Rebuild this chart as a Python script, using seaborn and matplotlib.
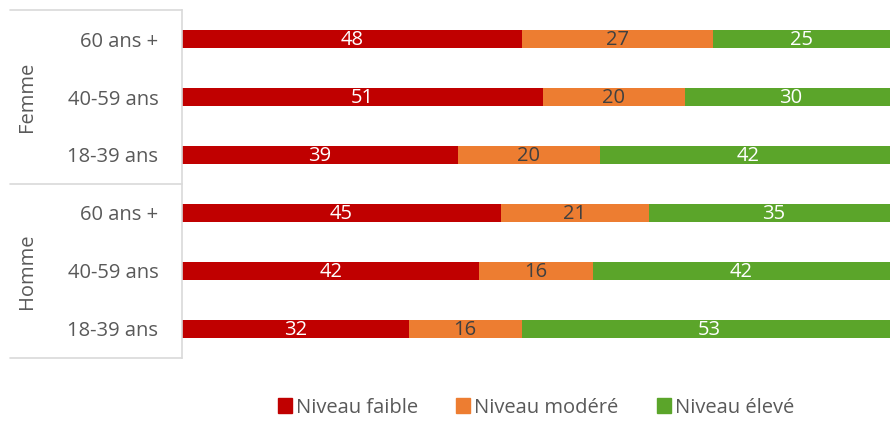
import matplotlib
matplotlib.use("Agg")
import matplotlib.pyplot as plt
import matplotlib.transforms as mtransforms
from matplotlib.patches import Patch
import seaborn as sns
import pandas as pd
import numpy as np

groups = ["Femme", "Femme", "Femme", "Homme", "Homme", "Homme"]
ages = ["60 ans +", "40-59 ans", "18-39 ans", "60 ans +", "40-59 ans", "18-39 ans"]
faible = [48, 51, 39, 45, 42, 32]
modere = [27, 20, 20, 21, 16, 16]
eleve = [25, 30, 42, 35, 42, 53]
series = ["Niveau faible", "Niveau modéré", "Niveau élevé"]
colors = ["#C00000", "#ED7D31", "#5BA52A"]
text_colors = ["white", "#404040", "white"]

sns.set_theme(style="white")
plt.rcParams["font.family"] = ["Open Sans", "DejaVu Sans"]

keys = [g + " " + a for g, a in zip(groups, ages)]
vals = np.array([faible, modere, eleve])
cum = vals.cumsum(axis=0)

fig = plt.figure(figsize=(8.9, 4.21), dpi=100)
ax = fig.add_axes([0.2045, 0.150, 0.7955, 0.826])

# stacked bars: draw cumulative totals from largest to smallest
for i in reversed(range(3)):
    df = pd.DataFrame({"key": keys, "val": cum[i]})
    sns.barplot(data=df, x="val", y="key", orient="h", color=colors[i],
                width=0.31, saturation=1, ax=ax, linewidth=0)

for i in range(3):
    for j in range(len(keys)):
        ax.text(cum[i][j] - vals[i][j] / 2, j + 0.02, str(vals[i][j]), ha="center",
                va="center", color=text_colors[i], fontsize=14.5)

ax.set_xlim(0, 100)
ax.set_ylim(5.5, -0.5)
ax.set_xlabel("")
ax.set_ylabel("")
ax.set_xticks([])
ax.set_yticks(range(len(keys)))
ax.set_yticklabels(ages, color="#595959", fontsize=14.5)
ax.tick_params(axis="y", length=0, pad=17)
for s in ["top", "right", "bottom"]:
    ax.spines[s].set_visible(False)
ax.spines["left"].set_color("#D9D9D9")
ax.spines["left"].set_linewidth(1.2)

# group separators and group labels
trans = mtransforms.blended_transform_factory(ax.transAxes, ax.transData)
for y in [-0.5, 2.5, 5.5]:
    ax.plot([-0.243, 0], [y, y], color="#D9D9D9", lw=1.2, transform=trans,
            clip_on=False)
for name, y in [("Femme", 1), ("Homme", 4)]:
    ax.text(-0.219, y, name, rotation=90, ha="center", va="center",
            color="#595959", fontsize=14.5, transform=trans)

handles = [Patch(color=c, label=s) for c, s in zip(colors, series)]
leg = ax.legend(handles=handles, loc="center", bbox_to_anchor=(0.5, -0.143),
                ncol=3, frameon=False, fontsize=14.5, handlelength=0.7,
                handleheight=0.7, handletextpad=0.2, columnspacing=1.9,
                borderpad=0.1)
for t in leg.get_texts():
    t.set_color("#595959")

fig.savefig("out.png", dpi=100)
